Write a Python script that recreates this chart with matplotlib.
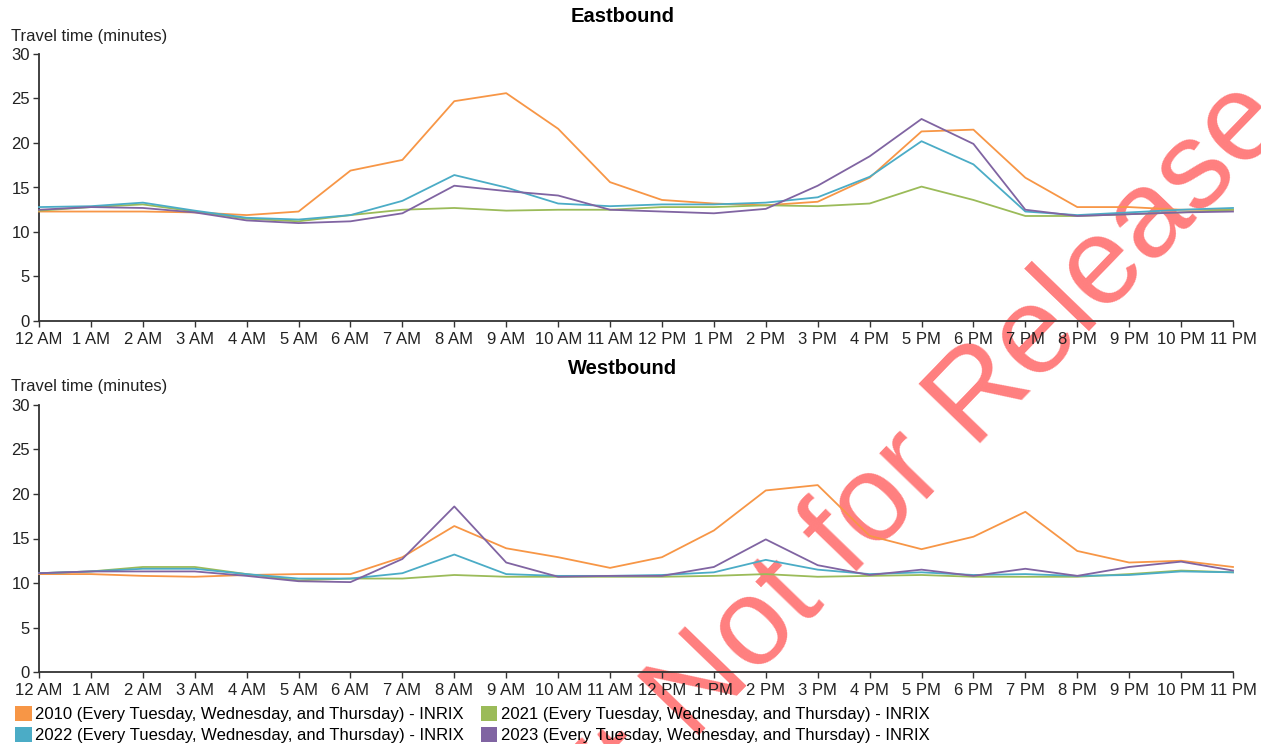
import numpy as np
import matplotlib
matplotlib.use('Agg')
import matplotlib.pyplot as plt
from matplotlib.patches import Patch

plt.rcParams['font.family'] = ['Liberation Sans', 'DejaVu Sans']

# Horas do dia
hours = ['12 AM'] + [f'{h} AM' for h in range(1, 12)] + ['12 PM'] + [f'{h} PM' for h in range(1, 12)]
x = np.arange(len(hours))

series_names = ['2010 (Every Tuesday, Wednesday, and Thursday) - INRIX',
                '2021 (Every Tuesday, Wednesday, and Thursday) - INRIX',
                '2022 (Every Tuesday, Wednesday, and Thursday) - INRIX',
                '2023 (Every Tuesday, Wednesday, and Thursday) - INRIX']
colors = ['#F79646', '#9BBB59', '#4BACC6', '#8064A2']

# Eastbound (minutes)
east_2010 = [12.3, 12.3, 12.3, 12.2, 11.9, 12.3, 16.9, 18.1, 24.7, 25.6, 21.6, 15.6,
             13.6, 13.2, 13.0, 13.4, 16.1, 21.3, 21.5, 16.1, 12.8, 12.8, 12.5, 12.5]
east_2021 = [12.4, 12.8, 13.1, 12.3, 11.5, 11.2, 11.9, 12.5, 12.7, 12.4, 12.5, 12.5,
             12.8, 12.8, 13.0, 12.9, 13.2, 15.1, 13.6, 11.8, 11.8, 12.0, 12.2, 12.5]
east_2022 = [12.8, 12.9, 13.3, 12.4, 11.6, 11.4, 11.9, 13.5, 16.4, 15.0, 13.2, 12.9,
             13.1, 13.1, 13.3, 13.9, 16.2, 20.2, 17.6, 12.3, 11.9, 12.2, 12.5, 12.7]
east_2023 = [12.5, 12.8, 12.7, 12.2, 11.3, 11.0, 11.2, 12.1, 15.2, 14.6, 14.1, 12.5,
             12.3, 12.1, 12.6, 15.2, 18.5, 22.7, 19.9, 12.5, 11.8, 12.0, 12.2, 12.3]

# Westbound (minutes)
west_2010 = [11.0, 11.0, 10.8, 10.7, 10.9, 11.0, 11.0, 12.9, 16.4, 13.9, 12.9, 11.7,
             12.9, 15.9, 20.4, 21.0, 15.3, 13.8, 15.2, 18.0, 13.6, 12.3, 12.5, 11.8]
west_2021 = [11.1, 11.3, 11.8, 11.8, 11.0, 10.3, 10.5, 10.5, 10.9, 10.7, 10.7, 10.7,
             10.7, 10.8, 11.0, 10.7, 10.8, 10.9, 10.7, 10.7, 10.7, 11.0, 11.4, 11.2]
west_2022 = [11.1, 11.3, 11.6, 11.6, 11.0, 10.5, 10.5, 11.1, 13.2, 11.0, 10.8, 10.8,
             10.9, 11.2, 12.6, 11.5, 11.0, 11.2, 10.9, 11.0, 10.8, 10.9, 11.3, 11.2]
west_2023 = [11.1, 11.3, 11.3, 11.3, 10.8, 10.2, 10.1, 12.7, 18.6, 12.3, 10.7, 10.8,
             10.8, 11.8, 14.9, 12.0, 10.9, 11.5, 10.8, 11.6, 10.8, 11.8, 12.4, 11.4]

W, H = 1261, 744
fig = plt.figure(figsize=(W / 100, H / 100), dpi=100)

def px(xp, yp):
    return xp / W, 1 - yp / H

def make_axes(top_px, bottom_px):
    l = 39 / W
    r = 1233 / W
    b = 1 - bottom_px / H
    t = 1 - top_px / H
    ax = fig.add_axes([l, b, r - l, t - b])
    ax.patch.set_alpha(0)
    return ax

def style(ax):
    ax.set_xlim(0, 23)
    ax.set_ylim(0, 30)
    ax.set_xticks(x)
    ax.set_xticklabels(hours)
    ax.set_yticks([0, 5, 10, 15, 20, 25, 30])
    for s in ['top', 'right']:
        ax.spines[s].set_visible(False)
    for s in ['left', 'bottom']:
        ax.spines[s].set_color('#333333')
        ax.spines[s].set_linewidth(1.3)
    ax.tick_params(axis='both', length=4.5, width=1.0, color='#333333',
                   labelsize=12, labelcolor='#222222', pad=2)
    ax.tick_params(axis='x', pad=3.5)

panels = [
    ('Eastbound', 54, 321, [east_2010, east_2021, east_2022, east_2023], 16, 36),
    ('Westbound', 405, 672, [west_2010, west_2021, west_2022, west_2023], 368, 387),
]

for title, top_px, bot_px, data, ty, ly in panels:
    ax = make_axes(top_px, bot_px)
    for vals, c in zip(data, colors):
        ax.plot(x, vals, color=c, lw=1.3, clip_on=False, zorder=3)
    style(ax)
    fig.text(*px(623, ty), title, ha='center', va='center', fontsize=14.5, fontweight='bold')
    fig.text(*px(11, ly), 'Travel time (minutes)', ha='left', va='center', fontsize=12, color='#222222')

# Legenda
handles = [Patch(facecolor=c, edgecolor='none') for c in colors]
order = [0, 2, 1, 3]
fig.legend([handles[i] for i in order], [series_names[i] for i in order],
           ncol=2, loc='upper left', bbox_to_anchor=px(15, 706), frameon=False,
           fontsize=12, handlelength=1.0, handleheight=1.0, handletextpad=0.2,
           columnspacing=1.0, labelspacing=0.28, borderpad=0, borderaxespad=0)

# Marca d'agua
ang = 46
wm = dict(fontsize=89, color='#ff7f7f', rotation=ang, rotation_mode='anchor',
          va='baseline', zorder=-5)
x0, y0 = 692, 742
sp = 34  # espaco entre as palavras, em px
fig.text(*px(x0, y0), 'Not for Release', ha='left', **wm)
fig.text(*px(x0 - sp * np.cos(np.radians(ang)), y0 + sp * np.sin(np.radians(ang))),
         'Draft', ha='right', **wm)

fig.savefig('out.png', dpi=100)
